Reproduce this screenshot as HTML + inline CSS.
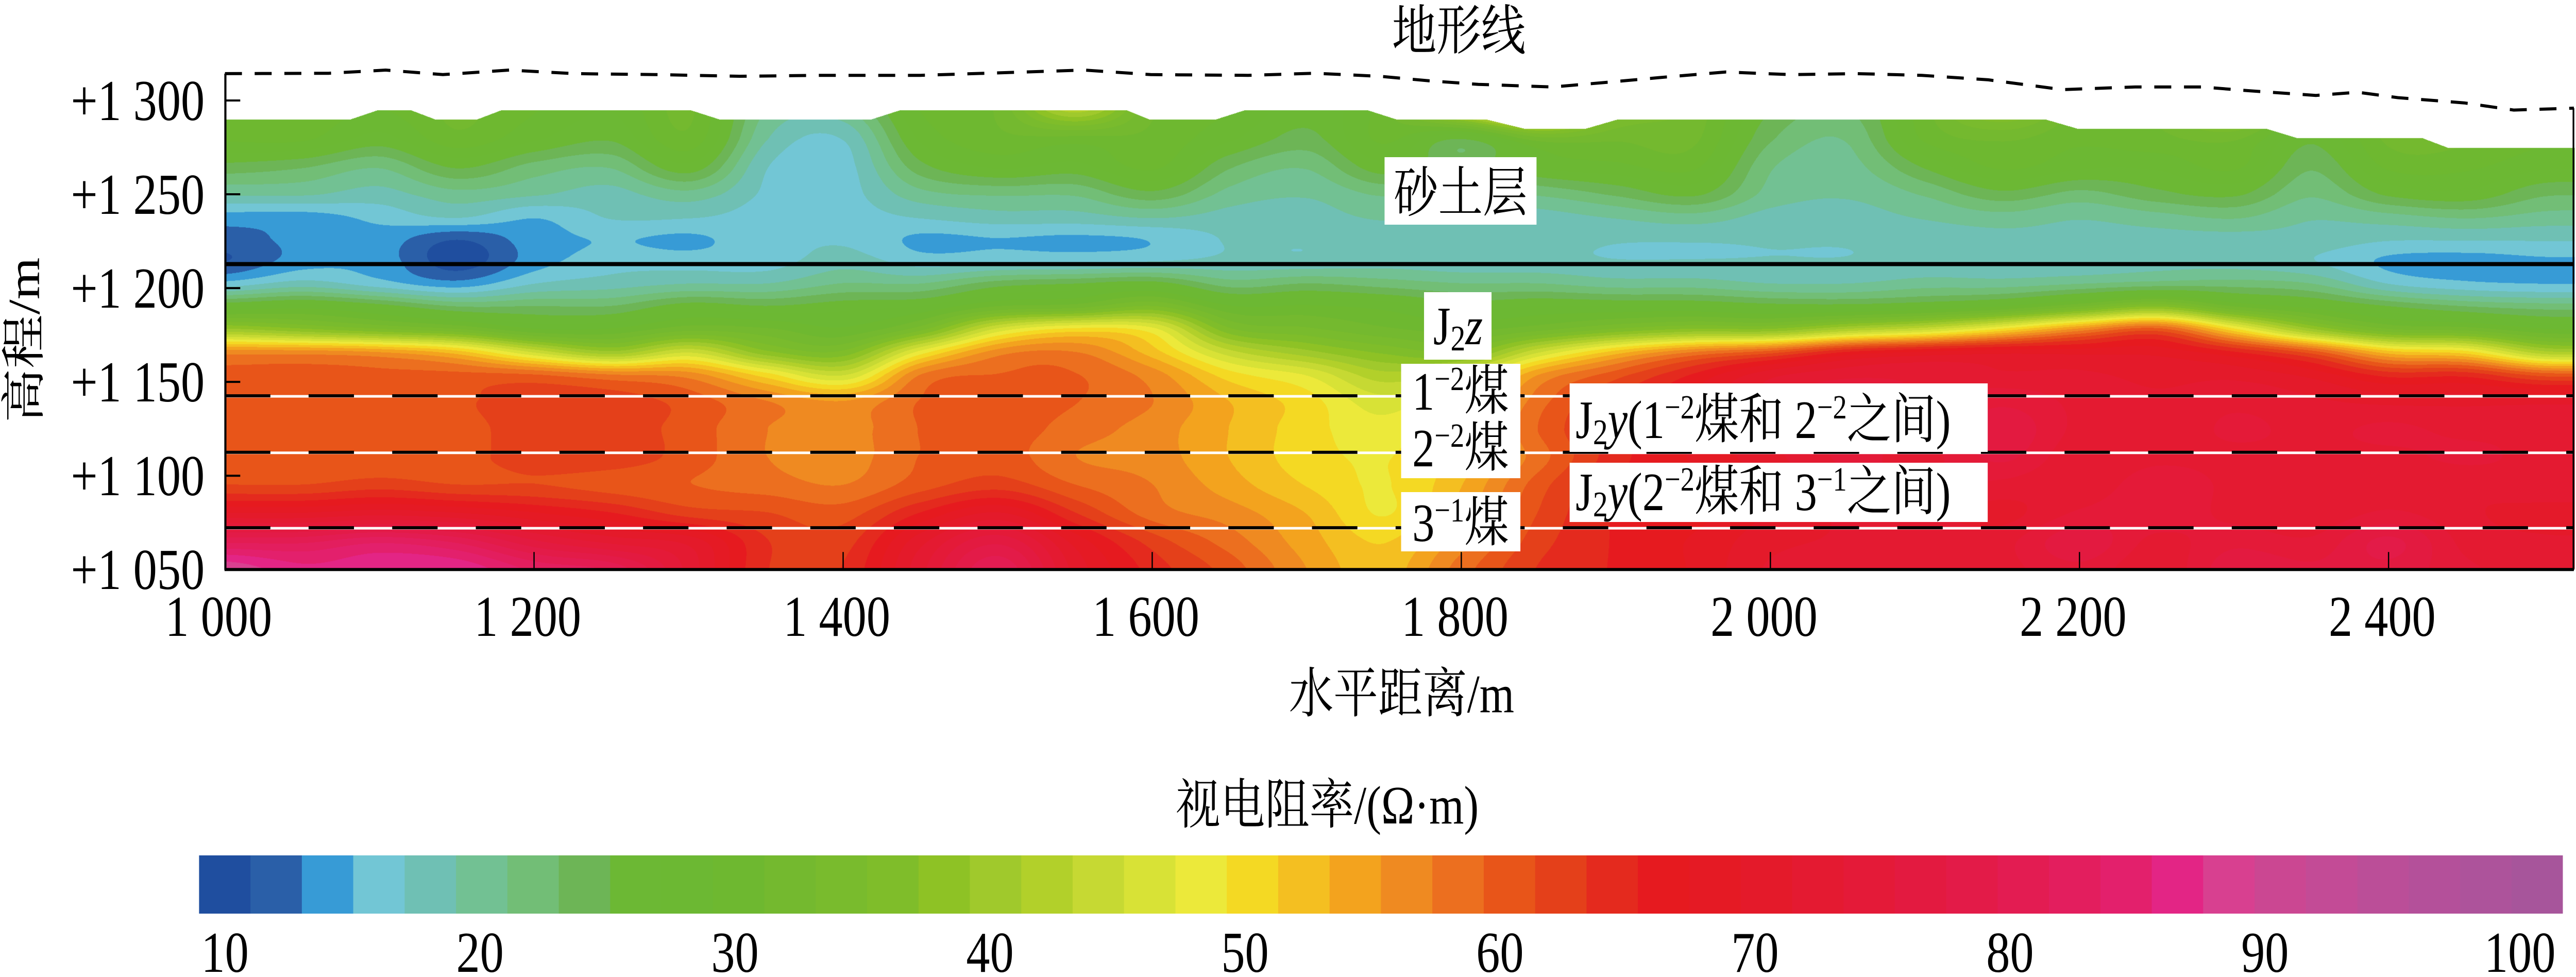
<!DOCTYPE html>
<html><head><meta charset="utf-8">
<style>
html,body{margin:0;padding:0;background:#fff;overflow:hidden;}
#wrap{position:relative;width:6069px;height:1896px;overflow:hidden;background:#fff;transform-origin:0 0;}
#field{position:absolute;left:530px;top:195px;}
#ov{position:absolute;left:0;top:0;}
text{font-family:"Liberation Serif","Noto Serif CJK SC",serif;fill:#000;}
</style></head>
<body>
<div id="wrap">
<canvas id="field" width="5536" height="909"></canvas>
<svg id="ov" width="6069" height="1896" xmlns="http://www.w3.org/2000/svg">
<g id="lines"></g>
<g id="axes"></g>
<g id="labels"></g>
<g id="cbar"></g>
</svg>
</div>
<script>
// ---- data ----
const distances = [1000,1050,1100,1150,1200,1250,1300,1350,1400,1450,1500,1550,1600,1650,1700,1750,1800,1850,1900,1950,2000,2050,2100,2150,2200,2250,2300,2350,2400,2450,2500,2550];
const elevations = [1300,1280,1265,1250,1238,1226,1214,1202,1190,1178,1166,1154,1140,1125,1110,1095,1080,1065,1050];
const res1000=[31,30,25,20,15,13,12,17,28,40,56,59.5,59.5,59.5,59.5,61,69,80,88];
const res1050=[31,30,24,20,15,14.5,15,19,29,38,56,59.5,59.5,59.5,59.5,61,69,80,85];
const res1100=[30,27,22,19,16.5,15,15,17,27,36,55,59.5,60,59.5,59.5,62,70,82,86];
const res1150=[32,31,26,21,18,12,11,15,24,34,52,59.5,60.5,60,60,61,69,80,86];
const res1200=[30,28,23,20,16,15,15,18,24,30,45,59,62,62,62,61,67,75,82];
const res1250=[28,26,22,19,18,16,17,19,24,30,40,57,62,62,62,60,65,72,80];
const res1300=[32,31,27,21,18,15.5,17,20,27,33,45,56,60,60,60,59,62,70,72];
const res1350=[22,20,18,17.5,17,17,17,20,26,32,38,50,57,57,57,58,61,63,63];
const res1400=[22,18,17,17,17,17.5,19,22,27,30,36,45,55,56,56,57,60,62,63];
const res1450=[30,28,25,21,18,15.5,17,22,28,35,48,57,59,59,59,60,65,70,72];
const res1500=[32,31,28,22,19,15.8,17.5,25,32,46,56,59,60,60,60,62,69,76,80];
const res1550=[45,31,27,22,19,15.5,17.5,26,33,50,57,59,59,58,57,59,63,68,70];
const res1600=[32,31,30,25,20,16,18,27,36,48,52,56,57,56,56,57,58,62,64];
const res1650=[30,28,24,21,19,18,18.5,23,30,36,44,50,53,53,53,54,56,58,60];
const res1700=[27,25,22,20,19,18,18.5,24,30,34,40,47,50,50,50,51,53,54,55];
const res1750=[31,30,27,22,20,19,19,23,29,32,37,42,46,48,49,49,49,51,52];
const res1800=[50,26,24,21,19,18.5,18.5,22,27,31,36,45,50,52,52,53,54,56,58];
const res1850=[60,33,28,22,19,18.5,18.5,22,28,33,45,55,58,59,58,60,61,62,63];
const res1900=[38,32,29,24,20,18,18,21,28,36,52,60,63,64,64,65,65,65,65];
const res1950=[33,32,30,26,21,18,18,21,28,38,57,65,67,67,67,66,66,67,67];
const res2000=[26,24,22,21,19,18,18,20,27,38,60,70,71,71,70,69,69,70,71];
const res2050=[24,22,21,20,19,18,18,20,27,42,65,72,74,73,73,72,71,71,72];
const res2100=[31,30,26,22,20,18.5,18.5,21,28,45,67,72,72,73,72,73,71,72,72];
const res2150=[40,32,30,25,21,19,18.5,21,30,50,68,71,74,76,75,72,70,72,72];
const res2200=[31,30,28,23,20,19,18.5,22,34,56,68,71,72,72,71,71,73,76,74];
const res2250=[32,31,28,25,21,19,19,23,38,60,68,70,71,71,72,74,74,72,71];
const res2300=[42,32,30,26,22,19,19,23,32,50,65,70,72,73,72,72,72,74,76];
const res2350=[27,26,24,22,20,19,18,22,29,40,60,68,71,72,72,71,71,73,75];
const res2400=[33,32,30,26,21,18,15.5,18,26,34,52,64,70,73,72,71,73,77,76];
const res2450=[33,32,30,27,22,18,15,16.5,24,33,50,64,70,72,73,71,71,72,73];
const res2500=[31,30,28,24,21,18,15.5,16,23,30,42,60,70,72,72,72,70,71,72];
const res2550=[31,30,28,24,21,18,15.5,16,23,30,42,60,70,72,72,72,70,71,72];
const resistivity=[res1000,res1050,res1100,res1150,res1200,res1250,res1300,res1350,res1400,res1450,res1500,res1550,res1600,res1650,res1700,res1750,res1800,res1850,res1900,res1950,res2000,res2050,res2100,res2150,res2200,res2250,res2300,res2350,res2400,res2450,res2500,res2550];

const surfaceX=[1000,1081,1099,1120,1136,1163,1179,1301,1320,1418,1437,1583,1598,1641,1660,1739,1758,1816,1841,1880,1901,2178,2199,2321,2341,2422,2438,2522];
const surfaceE=[1290,1290,1295,1295,1290,1290,1295,1295,1290,1290,1295,1295,1290,1290,1295,1295,1290,1290,1285,1285,1290,1290,1285,1285,1280,1280,1275,1275];
const terrainX=[1000,1067,1104,1141,1184,1226,1280,1333,1386,1450,1492,1556,1599,1662,1705,1747,1779,1811,1859,1896,1928,1971,2013,2056,2098,2141,2189,2236,2279,2311,2353,2380,2406,2449,2481,2521];
const terrainE=[1314.3,1314.5,1316.2,1313.8,1316.2,1314.3,1313.8,1312.9,1313.4,1313.4,1314.5,1316.2,1313.8,1313.4,1314.5,1312.9,1310.5,1308.6,1307.2,1309.8,1312.2,1315.2,1313.8,1314.3,1313.4,1311,1305.8,1307.2,1307.2,1305.1,1302.7,1304.4,1301.5,1298.7,1294.9,1295.9];
const boundaryE=[1212.8];
const seamE=[1142.3,1112.2,1072];
const xTicks=[1000,1200,1400,1600,1800,2000,2200,2400];
const xTickLabels=["1 000","1 200","1 400","1 600","1 800","2 000","2 200","2 400"];
const yTicks=[1300,1250,1200,1150,1100,1050];
const yTickLabels=["+1 300","+1 250","+1 200","+1 150","+1 100","+1 050"];
const cbarTicks=[10,20,30,40,50,60,70,80,90,100];

const palette=["#1f4e9f","#2a5fa8","#379bd6","#72c6d5","#6fc0b4","#72c193","#72be76","#6db556","#6cb834","#6cb833","#6eb830","#74b92f","#79bb2d","#7fbd2a","#8ec225","#a0c92c","#b2d02a","#c6d933","#d8e236","#ece93a","#f4d923","#f4bf21","#f3a31e","#ef8a21","#ec6f1f","#e85519","#e4401a","#e42a1e","#e61a1f","#e51a24","#e41a2a","#e41a31","#e41a38","#e31a40","#e31b48","#e31c52","#e31e5e","#e3206c","#e32585","#d84090","#cb4792","#c34b96","#bb4e98","#b4509a","#ad539b","#a7559b"];
const VMIN=10,VMAX=100;

// fit page to viewport (independent x/y)
(function(){
 const w=window.innerWidth||6069,h=window.innerHeight||1896;
 const sx=w/6069,sy=h/1896;
 if(Math.abs(sx-1)>0.001||Math.abs(sy-1)>0.001)document.getElementById('wrap').style.transform='scale('+sx+','+sy+')';
})();

// ---- scales ----
const X0=530,PXM=3.641,Y0=195,XR=6064;
const xs=m=>X0+(m-1000)*PXM;
const ys=e=>Y0+(1300-e)*PXM;
const NS="http://www.w3.org/2000/svg";
function mk(tag,attrs,parent){const el=document.createElementNS(NS,tag);for(const k in attrs)el.setAttribute(k,attrs[k]);parent.appendChild(el);return el;}
function interp1(xa,ya,x){if(x<=xa[0])return ya[0];for(let i=1;i<xa.length;i++){if(x<=xa[i]){const t=(x-xa[i-1])/(xa[i]-xa[i-1]);return ya[i-1]+t*(ya[i]-ya[i-1]);}}return ya[ya.length-1];}
function cr(p0,p1,p2,p3,t){const t2=t*t,t3=t2*t;return 0.5*((2*p1)+(-p0+p2)*t+(2*p0-5*p1+4*p2-p3)*t2+(-p0+3*p1-3*p2+p3)*t3);}

// ---- field ----
(function(){
 const cv=document.getElementById('field');const ctx=cv.getContext('2d');
 const W=cv.width,H=cv.height;const img=ctx.createImageData(W,H);const d=img.data;
 const rgb=palette.map(h=>[parseInt(h.slice(1,3),16),parseInt(h.slice(3,5),16),parseInt(h.slice(5,7),16)]);
 const nC=distances.length,nR=elevations.length;
 const rowF=new Float32Array(H),rowE=new Float32Array(H);
 for(let j=0;j<H;j++){const e=1300-j/PXM;rowE[j]=e;
   let f=nR-1;for(let r=1;r<nR;r++){if(e>=elevations[r]){f=r-1+(elevations[r-1]-e)/(elevations[r-1]-elevations[r]);break;}}
   rowF[j]=Math.max(0,Math.min(nR-1,f));}
 const colv=new Float32Array(nR);
 for(let i=0;i<W;i++){
   const m=1000+i/PXM;const top=interp1(surfaceX,surfaceE,m);
   let cf=(m-distances[0])/(distances[1]-distances[0]);cf=Math.max(0,Math.min(nC-1.0001,cf));
   const c1=Math.floor(cf),t=cf-c1;const c0=Math.max(0,c1-1),c2=Math.min(nC-1,c1+1),c3=Math.min(nC-1,c1+2);
   for(let r=0;r<nR;r++)colv[r]=cr(resistivity[c0][r],resistivity[c1][r],resistivity[c2][r],resistivity[c3][r],t);
   for(let j=0;j<H;j++){
     if(rowE[j]>top)continue;
     const rf=Math.min(nR-1.0001,rowF[j]);const r1=Math.floor(rf),u=rf-r1;
     const r0=Math.max(0,r1-1),r2=Math.min(nR-1,r1+1),r3=Math.min(nR-1,r1+2);
     const v=cr(colv[r0],colv[r1],colv[r2],colv[r3],u);
     let s=Math.floor((v-VMIN)/(VMAX-VMIN)*palette.length);s=Math.max(0,Math.min(palette.length-1,s));
     const p=(j*W+i)*4,c=rgb[s];d[p]=c[0];d[p+1]=c[1];d[p+2]=c[2];d[p+3]=255;}
 }
 ctx.putImageData(img,0,0);
})();

// ---- lines ----
const gL=document.getElementById('lines');
{
 let dpath='';terrainX.forEach((m,i)=>{dpath+=(i?'L':'M')+Math.min(XR,xs(m)).toFixed(1)+' '+ys(terrainE[i]).toFixed(1);});
 const t=mk('path',{d:dpath,fill:'none',stroke:'#000','stroke-width':6,'stroke-dasharray':'40 30'},gL);
 
 
 const b=mk('line',{x1:xs(1000),x2:XR,y1:ys(boundaryE[0]),y2:ys(boundaryE[0]),stroke:'#000','stroke-width':8},gL);
 
 
 seamE.forEach((e,i)=>{
  const w=mk('line',{x1:xs(1000),x2:XR,y1:ys(e),y2:ys(e),stroke:'#fff','stroke-width':5},gL);
  
  
  const l=mk('line',{x1:xs(1000),x2:XR,y1:ys(e)-1,y2:ys(e)-1,stroke:'#000','stroke-width':6,'stroke-dasharray':'107 90'},gL);
  
  
 });
}
// ---- axes ----
const gA=document.getElementById('axes');
{
 const ax=mk('line',{x1:531,x2:531,y1:ys(terrainE[0]),y2:1106,stroke:'#000','stroke-width':5},gA);
 
 
 const ar=mk('line',{x1:6063,x2:6063,y1:ys(terrainE[terrainE.length-1]),y2:1106,stroke:'#000','stroke-width':4},gA);
 
 
 const bx=mk('line',{x1:529,x2:XR,y1:ys(1050),y2:ys(1050),stroke:'#000','stroke-width':6},gA);
 
 
 xTicks.forEach((m,i)=>{
  if(i>0){const tk=mk('line',{x1:xs(m),x2:xs(m),y1:ys(1050),y2:ys(1050)-34,stroke:'#000','stroke-width':3},gA);
   
   }
  const tx=mk('text',{x:xs(m)-15,y:1234,'font-size':112,'text-anchor':'middle'},gA);tx.textContent=xTickLabels[i];
  
  
 });
 yTicks.forEach((e,i)=>{
  if(e>1050){const tk=mk('line',{x1:531,x2:566,y1:ys(e),y2:ys(e),stroke:'#000','stroke-width':4},gA);
   
   }
  const tx=mk('text',{x:482,y:ys(e)+38,'font-size':112,'text-anchor':'end'},gA);tx.textContent=yTickLabels[i];
  
  
 });
}
// ---- colorbar ----
const gC=document.getElementById('cbar');
{
 const L=469,R=6038,T=1660,B=1773,sw=(R-L)/palette.length;
 palette.forEach((c,i)=>{const r=mk('rect',{x:L+i*sw,y:T,width:Math.min(sw+0.8,R-(L+i*sw)),height:B-T,fill:c},gC);
  
  });
 const cx=v=>530+(v-10)/90*(5937-530);
 cbarTicks.forEach(v=>{const t=mk('text',{x:cx(v),y:1886,'font-size':112,'text-anchor':'middle'},gC);t.textContent=String(v);
  
  });
}
</script>
<script>
(function(){
 const g=document.getElementById('labels');
 g.innerHTML=`
 <text x="3437" y="96" font-size="105" text-anchor="middle">地形线</text>
 <text transform="translate(92,660) rotate(-90)" font-size="105" text-anchor="middle">高程/m</text>
 <text x="3302" y="1382" font-size="105" text-anchor="middle">水平距离/m</text>
 <text x="3127" y="1598" font-size="105" text-anchor="middle">视电阻率/(Ω·m)</text>
 <rect x="3262" y="305" width="358" height="131" fill="#fff"/>
 <text x="3441" y="410" font-size="105" text-anchor="middle">砂土层</text>
 <rect x="3355" y="567" width="159" height="131" fill="#fff"/>
 <text x="3435" y="668" font-size="105" text-anchor="middle">J<tspan font-size="70" dy="12">2</tspan><tspan dy="-12" font-style="italic">z</tspan></text>
 <rect x="3301" y="706" width="281" height="222" fill="#fff"/>
 <text x="3441" y="795" font-size="105" text-anchor="middle">1<tspan font-size="66" dy="-38">−2</tspan><tspan dy="38">煤</tspan></text>
 <text x="3441" y="905" font-size="105" text-anchor="middle">2<tspan font-size="66" dy="-38">−2</tspan><tspan dy="38">煤</tspan></text>
 <rect x="3301" y="955" width="281" height="115" fill="#fff"/>
 <text x="3441" y="1050" font-size="105" text-anchor="middle">3<tspan font-size="66" dy="-38">−1</tspan><tspan dy="38">煤</tspan></text>
 <rect x="3698" y="744" width="985" height="133" fill="#fff"/>
 <text x="3712" y="850" font-size="105">J<tspan font-size="70" dy="12">2</tspan><tspan dy="-12" font-style="italic">y</tspan>(1<tspan font-size="66" dy="-38">−2</tspan><tspan dy="38">煤和 2</tspan><tspan font-size="66" dy="-38">−2</tspan><tspan dy="38">之间)</tspan></text>
 <rect x="3698" y="898" width="985" height="115" fill="#fff"/>
 <text x="3712" y="990" font-size="105">J<tspan font-size="70" dy="12">2</tspan><tspan dy="-12" font-style="italic">y</tspan>(2<tspan font-size="66" dy="-38">−2</tspan><tspan dy="38">煤和 3</tspan><tspan font-size="66" dy="-38">−1</tspan><tspan dy="38">之间)</tspan></text>
 `;
})();
</script>
</body></html>
